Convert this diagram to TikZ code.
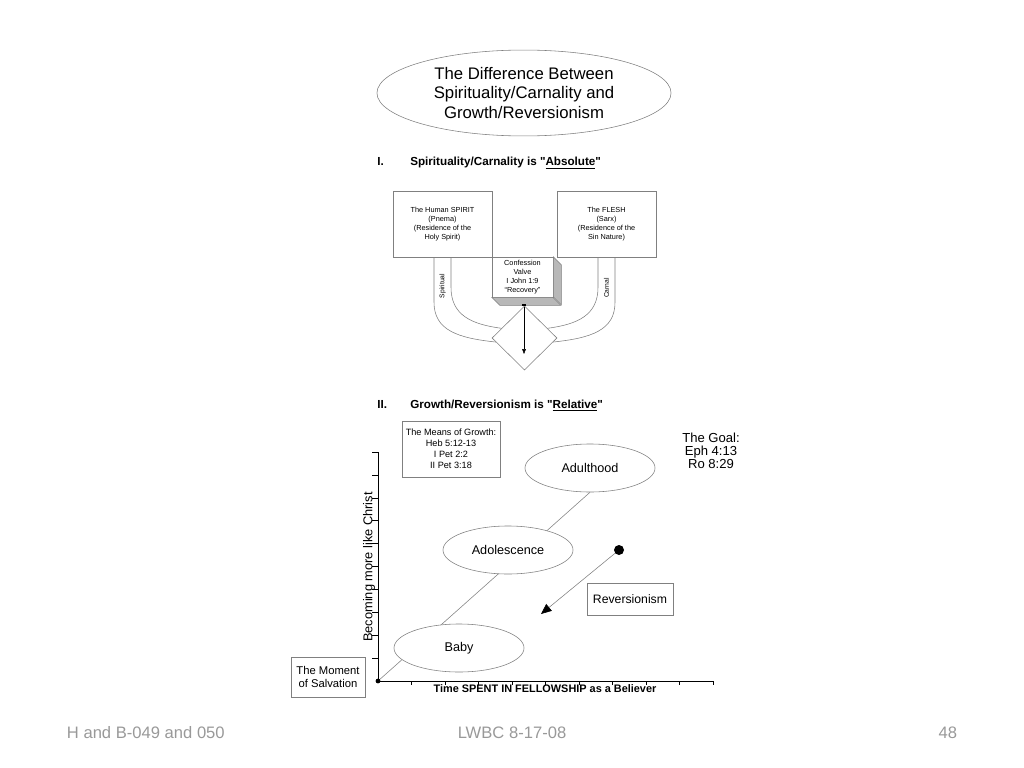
\documentclass[tikz,border=0pt]{standalone}
\usepackage{fontspec}
\setmainfont{Liberation Sans}
\usepackage{tikz}
\usetikzlibrary{arrows.meta, positioning, calc, shapes.geometric, backgrounds}

\definecolor{boxline}{gray}{0.5}
\definecolor{valveside}{gray}{0.72}

\begin{document}
\begin{tikzpicture}[
    x=0.025cm, y=-0.025cm,
    >=Latex,
    card/.style={
        draw=boxline,
        fill=white,
        align=center,
        inner sep=1pt
    },
    stage/.style={
        draw=boxline,
        ellipse,
        fill=white,
        minimum width=3.25cm,
        minimum height=1.2cm,
        font=\fontsize{9}{11}\selectfont
    },
    heading/.style={
        anchor=base west,
        inner sep=0pt,
        font=\bfseries\fontsize{8.3}{10}\selectfont
    },
    tiny/.style={
        align=center,
        font=\fontsize{5.2}{6.4}\selectfont
    },
    footer/.style={
        text=gray!80,
        font=\fontsize{11.8}{14}\selectfont
    }
]

\useasboundingbox (0,0) rectangle (1024,768);

% Title
\node[draw=boxline, ellipse, minimum width=7.35cm, minimum height=2.05cm,
      align=center, font=\fontsize{11.9}{13.9}\selectfont] (title) at (524,93)
{The Difference Between\\
Spirituality/Carnality and\\
Growth/Reversionism};

% Part I
\node[heading] (numI) at (377,166) {I.};
\node[heading] (headI) at (410,166) {Spirituality/Carnality is \textquotedbl\underline{Absolute}\textquotedbl};

\node[card, tiny, minimum width=2.475cm, minimum height=1.65cm] (spirit) at (442.5,224)
{The Human SPIRIT\\
(Pnema)\\
(Residence of the\\
Holy Spirit)};

\node[card, tiny, minimum width=2.475cm, minimum height=1.65cm] (flesh) at (606.5,224)
{The FLESH\\
(Sarx)\\
(Residence of the\\
Sin Nature)};

\node[draw=boxline, diamond, minimum width=1.625cm, minimum height=1.6cm,
      inner sep=0pt] (valvebase) at (524.5,338) {};

% Pipes into the valve
\draw[boxline] ($(spirit.south)+(-8.5,0)$) -- ++(0,45)
    .. controls +(0,28) and +(-38,-4) .. ($(valvebase.west)!0.125!(valvebase.south)$);
\draw[boxline] ($(spirit.south)+(8.5,0)$) -- ++(0,30)
    .. controls +(0,28) and +(-30,-4) .. ($(valvebase.west)!0.3!(valvebase.north)$);
\draw[boxline] ($(flesh.south)+(-8.5,0)$) -- ++(0,30)
    .. controls +(0,28) and +(30,-4) .. ($(valvebase.east)!0.3!(valvebase.north)$);
\draw[boxline] ($(flesh.south)+(8.5,0)$) -- ++(0,45)
    .. controls +(0,28) and +(38,-4) .. ($(valvebase.east)!0.125!(valvebase.south)$);

\node[rotate=90, font=\fontsize{4.8}{5}\selectfont, inner sep=0pt] (spiritual) at (442.5,286) {Spiritual};
\node[rotate=90, font=\fontsize{4.8}{5}\selectfont, inner sep=0pt] (carnal) at (606.5,288) {Carnal};

% Confession valve (box with depth)
\node[card, tiny, minimum width=1.525cm, minimum height=1.0cm] (valve) at (522.5,277)
{Confession\\
Valve\\
I John 1:9\\
``Recovery''};
\filldraw[fill=valveside, draw=boxline] (valve.north east) -- ++(8,8) -- ++(0,40) -- ++(-8,-8) -- cycle;
\filldraw[fill=valveside, draw=boxline] (valve.south west) -- ++(8,8) -- ++(61,0) -- ++(-8,-8) -- cycle;

\node[fill=black, inner sep=0pt, minimum width=1.1mm, minimum height=0.7mm] (valvetap) at (524,305) {};
\coordinate (valveout) at (524,354);
\draw[line width=0.3pt, -{Triangle[length=1.2mm, width=0.9mm]}] (valvetap) -- (valveout);

% Part II
\node[heading] (numII) at (377,408) {II.};
\node[heading] (headII) at (410,408) {Growth/Reversionism is \textquotedbl\underline{Relative}\textquotedbl};

\node[card, minimum width=2.45cm, minimum height=1.4cm,
      font=\fontsize{6.5}{7.8}\selectfont] (means) at (451,449)
{The Means of Growth:\\
Heb 5:12-13\\
I Pet 2:2\\
II Pet 3:18};

\node[align=center, font=\fontsize{9.3}{9.3}\selectfont] (goal) at (711,451)
{The Goal:\\
Eph 4:13\\
Ro 8:29};

% Axes
\node[circle, fill=black, inner sep=0pt, minimum size=0.12cm] (origin) at (378,681) {};
\coordinate (ytop) at (378,452);
\coordinate (xend) at (713,681);
\draw (origin.center) -- (ytop);
\draw (origin.center) -- (xend);
\foreach \k in {0,...,9}
    \draw (372,452+\k*22.9) -- (378,452+\k*22.9);
\foreach \k in {1,...,10}
    \draw (378+\k*33.5,681) -- (378+\k*33.5,685);

\node[rotate=90, inner sep=0pt, font=\fontsize{9.1}{11}\selectfont] (ylabel) at (369,567) {Becoming more like Christ};
\node[inner sep=0pt, font=\bfseries\fontsize{7.75}{9}\selectfont] (xlabel) at (545,689) {Time SPENT IN FELLOWSHIP as a Believer};

% Stages of growth
\node[stage] (adult) at (590,468) {Adulthood};
\node[stage] (adol) at (508,550) {Adolescence};
\node[stage] (baby) at (459,648) {Baby};

\begin{scope}[on background layer]
\draw[boxline] (origin.center) -- (adult.south);
\end{scope}

\node[card, minimum width=1.85cm, minimum height=1.0cm,
      font=\fontsize{8}{9.2}\selectfont] (moment) at (328,677)
{The Moment\\
of Salvation};

% Reversionism
\node[circle, fill=black, inner sep=0pt, minimum size=0.25cm] (revdot) at (619,550) {};
\coordinate (revend) at (541,614);
\draw[boxline, -{Triangle[length=0.26cm, width=0.22cm, black]}] (revdot) -- (revend);
\node[card, minimum width=2.15cm, minimum height=0.8cm,
      font=\fontsize{8.7}{10}\selectfont] (revbox) at (630,599) {Reversionism};

% Footer
\node[footer, anchor=west] (fleft) at (62,733) {H and B-049 and 050};
\node[footer] (fmid) at (512,733) {LWBC 8-17-08};
\node[footer, anchor=east] (fright) at (962,733) {48};

\end{tikzpicture}
\end{document}
